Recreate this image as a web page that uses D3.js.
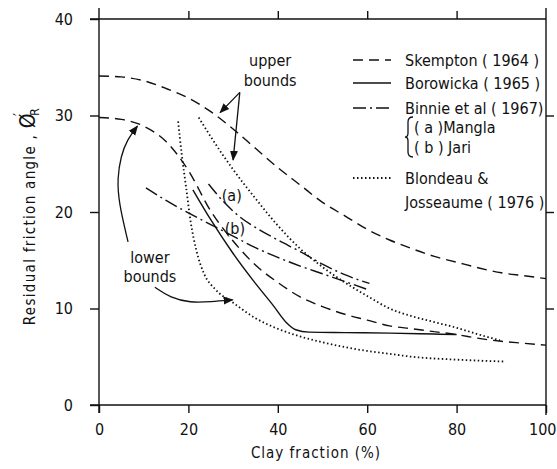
<!DOCTYPE html>
<html lang="en">
  <head>
    <meta charset="UTF-8" />
    <title>Residual friction angle vs clay fraction</title>
    <script src="https://d3js.org/d3.v7.min.js"></script>
    <style>
      body { margin: 0; background: #fff; }
      svg text { font-family: 'DejaVu Sans Condensed', 'DejaVu Sans', sans-serif; fill: #111; }
    </style>
  </head>
  <body>
    <script>
      let width = 557
      let height = 469

      // axis ticks
      let xTicks = [0, 20, 40, 60, 80, 100]
      let yTicks = [0, 10, 20, 30, 40]

      // curves: [clay fraction %, residual angle deg]
      let skemptonUpper = [[0, 34.1], [5, 34], [10, 33.6], [15, 32.8], [20, 31.8], [25, 30.4], [30, 28.6], [35, 26.6], [40, 24.6], [45, 22.8], [50, 21], [55, 19.6], [60, 18.2], [65, 17.1], [70, 16.2], [75, 15.4], [80, 14.8], [85, 14.2], [90, 13.7], [95, 13.4], [100, 13.1]]
      let skemptonLower = [[0, 29.8], [5, 29.6], [10, 28.9], [15, 27.3], [20, 24.3], [25, 20.1], [30, 17], [35, 14.5], [40, 12.7], [45, 11.2], [50, 10.2], [55, 9.4], [60, 8.8], [65, 8.2], [70, 7.9], [75, 7.6], [80, 7.3], [85, 6.9], [90, 6.6], [95, 6.4], [100, 6.2]]
      let borowicka = [[21, 22.3], [25, 19.2], [30, 15.7], [35, 12.6], [39, 10.3], [42, 8.5], [44, 7.8], [47, 7.55], [55, 7.5], [65, 7.45], [75, 7.35], [80, 7.3]]
      let binnieMangla = [[24.5, 22.9], [28, 21], [31.5, 19.5], [35, 18.4], [40, 17.1], [45, 15.9], [50, 14.6], [55, 13.5], [60.5, 12.6]]
      let binnieJari = [[10.5, 22.5], [15, 21.2], [20, 19.9], [25, 18.7], [30, 17.5], [35, 16.3], [40, 15.3], [45, 14.4], [50, 13.6], [55, 12.8], [60.5, 11.9]]
      let blondeauUpper = [[22.3, 29.8], [25, 27.8], [30, 24.4], [35, 21.4], [40, 18.6], [45, 16.2], [50, 14.3], [55, 12.7], [60, 11.3], [65, 10], [70, 9.2], [75, 8.6], [80, 8], [85, 7.3], [89.7, 6.7]]
      let blondeauLower = [[17.7, 29.4], [18.5, 26], [19.5, 22.5], [20.5, 19], [21.8, 16], [23.5, 13.6], [26, 12], [30, 10.6], [35, 9], [40, 7.9], [45, 7.1], [50, 6.5], [55, 6], [60, 5.6], [65, 5.3], [70, 5], [80, 4.7], [91, 4.5]]

      let styles = {
        dashed: '10,6',
        solid: null,
        dashdot: '13,4,2,4',
        dotted: '1.5,2.5'
      }

      let series = [
        { data: skemptonUpper, style: 'dashed' },
        { data: skemptonLower, style: 'dashed' },
        { data: borowicka, style: 'solid' },
        { data: binnieMangla, style: 'dashdot' },
        { data: binnieJari, style: 'dashdot' },
        { data: blondeauUpper, style: 'dotted' },
        { data: blondeauLower, style: 'dotted' }
      ]

      let legendRows = [
        { style: 'dashed', text: 'Skempton ( 1964 )', y: 60 },
        { style: 'solid', text: 'Borowicka ( 1965 )', y: 83 },
        { style: 'dashdot', text: 'Binnie et al ( 1967)', y: 108 },
        { style: 'dotted', text: 'Blondeau &', y: 178 }
      ]

      let x = d3.scaleLinear().domain([0, 100]).range([99, 546])
      let y = d3.scaleLinear().domain([0, 40]).range([405, 19])

      let svg = d3.select('body').append('svg')
        .attr('width', width)
        .attr('height', height)

      svg.append('defs').append('marker')
        .attr('id', 'arrow')
        .attr('viewBox', '0 0 10 10')
        .attr('refX', 9)
        .attr('refY', 5)
        .attr('markerWidth', 10)
        .attr('markerHeight', 10)
        .attr('markerUnits', 'userSpaceOnUse')
        .attr('orient', 'auto')
        .append('path')
        .attr('d', 'M0,1 L10,5 L0,9 Z')
        .attr('fill', '#111')

      // frame lines (extend a bit past the corners like the drawing)
      let frame = svg.append('g').attr('stroke', '#111').attr('stroke-width', 1.4)
      frame.append('line').attr('x1', x(0) - 9).attr('x2', x(100)).attr('y1', y(0)).attr('y2', y(0))
      frame.append('line').attr('x1', x(0) - 9).attr('x2', x(100)).attr('y1', y(40)).attr('y2', y(40))
      frame.append('line').attr('x1', x(0)).attr('x2', x(0)).attr('y1', y(40) - 11).attr('y2', y(0) + 8)
      frame.append('line').attr('x1', x(100)).attr('x2', x(100)).attr('y1', y(40) - 11).attr('y2', y(0) + 10)

      // axes
      let xAxis = svg.append('g')
        .attr('transform', `translate(0,${y(0)})`)
        .call(d3.axisBottom(x).tickValues(xTicks).tickSize(8).tickFormat(d3.format('d')))
      let yAxis = svg.append('g')
        .attr('transform', `translate(${x(0)},0)`)
        .call(d3.axisLeft(y).tickValues(yTicks).tickSize(9).tickFormat(d3.format('d')))
      svg.append('g')
        .attr('transform', `translate(0,${y(40)})`)
        .call(d3.axisTop(x).tickValues(xTicks.slice(1, -1)).tickSize(8).tickFormat(''))
      svg.append('g')
        .attr('transform', `translate(${x(100)},0)`)
        .call(d3.axisRight(y).tickValues(yTicks.slice(1, -1)).tickSize(8).tickFormat(''))

      svg.selectAll('.domain').remove()
      svg.selectAll('.tick line').attr('stroke', '#111').attr('stroke-width', 1.4)
      xAxis.selectAll('text').attr('font-size', 16).attr('dy', '1.2em')
      // last label sits on the window edge
      xAxis.selectAll('.tick:last-of-type text').attr('text-anchor', 'end').attr('x', 556 - x(100))
      yAxis.selectAll('text').attr('font-size', 16).attr('x', -26)

      svg.append('text')
        .attr('x', 316)
        .attr('y', 458)
        .attr('text-anchor', 'middle')
        .attr('font-size', 15)
        .attr('letter-spacing', 1)
        .text('Clay fraction (%)')

      let yl = svg.append('text')
        .attr('transform', `translate(35,${(y(0) + y(40)) / 2 + 4}) rotate(-90)`)
        .attr('text-anchor', 'middle')
        .attr('font-size', 15)
        .attr('letter-spacing', 1.3)
      yl.append('tspan').text('Residual friction angle , ')
      yl.append('tspan').attr('font-size', 21).text('Ø')
      yl.append('tspan').attr('dy', -10).attr('dx', -4).text('′')
      yl.append('tspan').attr('dy', 14).attr('dx', -4).attr('font-size', 12).text('R')

      // curves
      let line = d3.line()
        .x(d => x(d[0]))
        .y(d => y(d[1]))
        .curve(d3.curveMonotoneX)

      svg.append('g')
        .selectAll('path')
        .data(series)
        .enter()
        .append('path')
        .attr('d', d => line(d.data))
        .attr('fill', 'none')
        .attr('stroke', '#111')
        .attr('stroke-width', d => (d.style === 'dotted' ? 1.8 : 1.4))
        .attr('stroke-dasharray', d => styles[d.style])

      // legend
      let legend = svg.append('g')
      legend.selectAll('line')
        .data(legendRows)
        .enter()
        .append('line')
        .attr('x1', 353)
        .attr('x2', 391)
        .attr('y1', d => d.y)
        .attr('y2', d => d.y)
        .attr('stroke', '#111')
        .attr('stroke-width', d => (d.style === 'dotted' ? 1.8 : 1.4))
        .attr('stroke-dasharray', d => styles[d.style])
      legend.selectAll('text')
        .data(legendRows)
        .enter()
        .append('text')
        .attr('x', 405)
        .attr('y', d => d.y + 6)
        .attr('font-size', 16)
        .text(d => d.text)
      legend.append('text').attr('x', 405).attr('y', 208).attr('font-size', 16).text('Josseaume ( 1976 )')
      legend.append('text').attr('x', 414).attr('y', 133).attr('font-size', 16).text('( a )Mangla')
      legend.append('text').attr('x', 414).attr('y', 153).attr('font-size', 16).text('( b ) Jari')
      legend.append('path')
        .attr('d', 'M413,117 Q408,117 408,122 L408,133 Q408,137 405,137 Q408,137 408,141 L408,152 Q408,157 413,157')
        .attr('fill', 'none')
        .attr('stroke', '#111')
        .attr('stroke-width', 1.3)

      // annotations
      let ann = svg.append('g')
      ann.append('text').attr('x', x(38.3)).attr('y', 66).attr('text-anchor', 'middle').attr('font-size', 16).text('upper')
      ann.append('text').attr('x', x(38.3)).attr('y', 86).attr('text-anchor', 'middle').attr('font-size', 16).text('bounds')
      ann.append('text').attr('x', x(11.4)).attr('y', 263).attr('text-anchor', 'middle').attr('font-size', 16).text('lower')
      ann.append('text').attr('x', x(11.4)).attr('y', 282).attr('text-anchor', 'middle').attr('font-size', 16).text('bounds')
      ann.append('text').attr('x', x(29.7)).attr('y', 201).attr('text-anchor', 'middle').attr('font-size', 16).text('(a)')
      ann.append('text').attr('x', x(30.4)).attr('y', 234).attr('text-anchor', 'middle').attr('font-size', 16).text('(b)')

      let arrowPaths = [
        [[31.5, 32.4], [27.1, 30.3]],
        [[31.5, 32.4], [30.0, 25.4]],
        [[6.5, 16.9], [4.4, 21.0], [4.1, 23.5], [4.9, 25.8], [6.3, 27.5], [8.6, 28.9]],
        [[12.5, 12.2], [16, 11.1], [20.4, 10.6], [25, 10.7], [29.9, 10.9]]
      ]
      let arrowLine = d3.line().x(d => x(d[0])).y(d => y(d[1])).curve(d3.curveBasis)
      ann.selectAll('path.arr')
        .data(arrowPaths)
        .enter()
        .append('path')
        .attr('class', 'arr')
        .attr('d', arrowLine)
        .attr('fill', 'none')
        .attr('stroke', '#111')
        .attr('stroke-width', 1.3)
        .attr('marker-end', 'url(#arrow)')
    </script>
  </body>
</html>
